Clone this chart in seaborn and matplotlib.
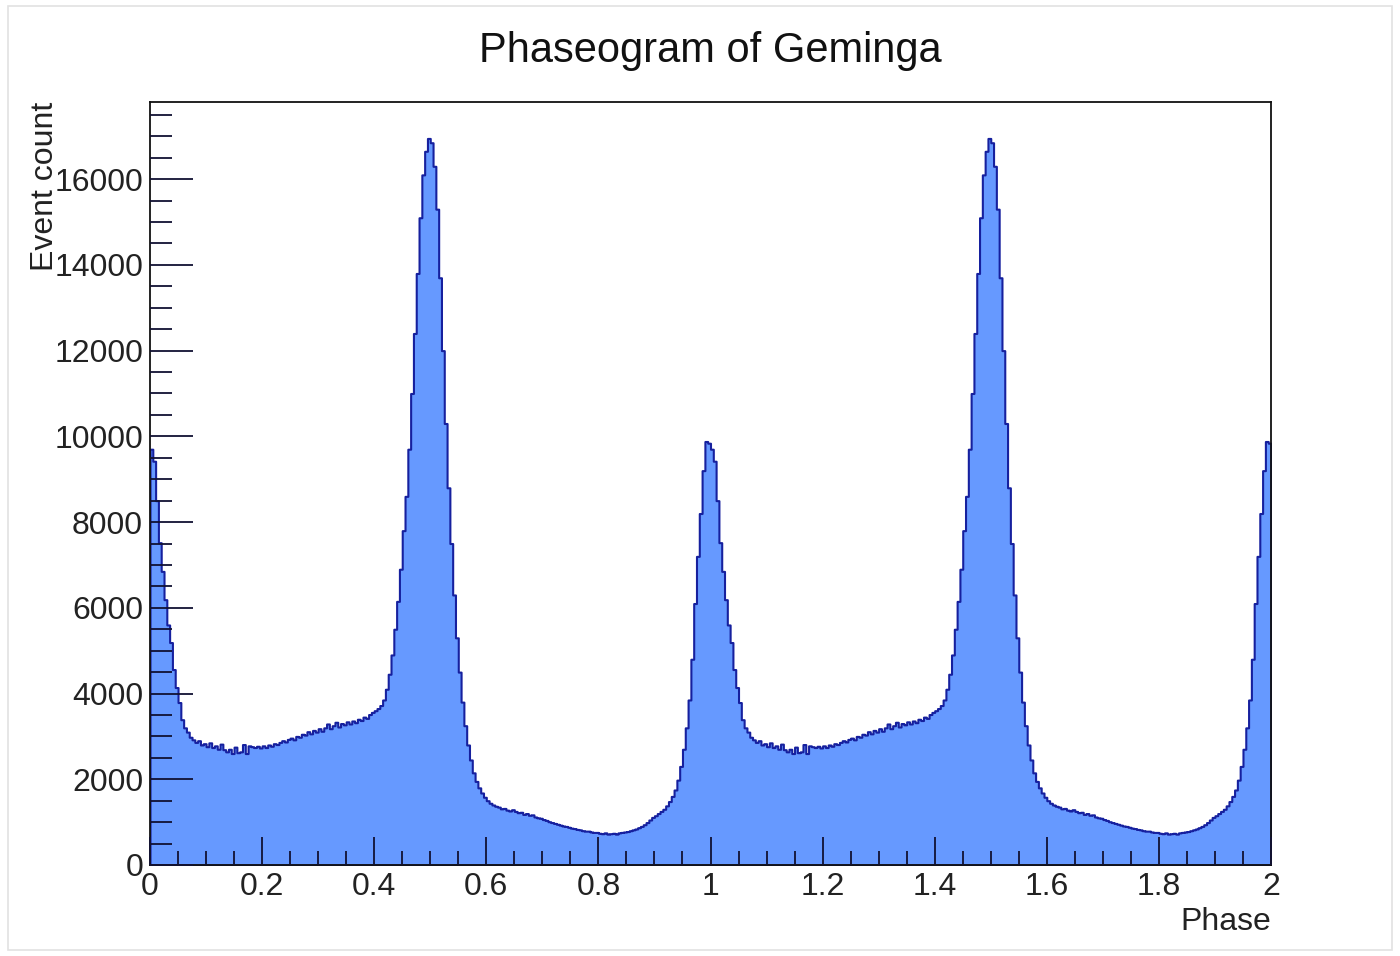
import numpy as np
import pandas as pd
import matplotlib
matplotlib.use("Agg")
import matplotlib.pyplot as plt
import seaborn as sns
from matplotlib.ticker import MultipleLocator, FixedLocator, FuncFormatter
from matplotlib.patches import Rectangle

# ---- data ----
# counts for one rotation cycle, 200 bins of width 0.005 in phase (0 -> 1)
counts_0_to_01 = [9700, 9420, 8500, 7520, 6850, 6190, 5600, 5190, 4560, 4140,
                  3790, 3390, 3200, 3100, 2980, 2920, 2860, 2900, 2800, 2830]
counts_01_to_02 = [2760, 2850, 2740, 2780, 2700, 2820, 2690, 2640, 2700, 2600,
                   2750, 2620, 2640, 2810, 2600, 2780, 2760, 2740, 2770, 2730]
counts_02_to_03 = [2780, 2740, 2800, 2770, 2830, 2810, 2860, 2900, 2870, 2930,
                   2960, 2920, 3000, 2980, 3050, 3030, 3110, 3060, 3140, 3100]
counts_03_to_04 = [3180, 3120, 3200, 3290, 3180, 3250, 3330, 3220, 3300, 3270,
                   3340, 3290, 3360, 3320, 3400, 3370, 3450, 3420, 3510, 3560]
counts_04_to_05 = [3600, 3650, 3720, 3850, 4100, 4450, 4900, 5500, 6150, 6900,
                   7800, 8600, 9700, 11000, 12400, 13800, 15100, 16100, 16650, 16950]
counts_05_to_06 = [16850, 16300, 15300, 13700, 12000, 10300, 8800, 7500, 6300, 5300,
                   4500, 3800, 3250, 2800, 2450, 2150, 1950, 1800, 1680, 1580]
counts_06_to_07 = [1500, 1440, 1400, 1370, 1350, 1310, 1320, 1280, 1260, 1290,
                   1250, 1220, 1230, 1180, 1200, 1160, 1170, 1120, 1100, 1090]
counts_07_to_08 = [1060, 1040, 1010, 990, 970, 950, 930, 910, 900, 880,
                   860, 850, 830, 820, 800, 790, 790, 770, 760, 760]
counts_08_to_09 = [740, 730, 750, 720, 730, 740, 720, 750, 760, 770,
                   780, 800, 820, 840, 870, 900, 940, 990, 1050, 1110]
counts_09_to_10 = [1150, 1200, 1250, 1300, 1380, 1480, 1600, 1750, 1980, 2300,
                   2700, 3200, 3850, 4800, 6100, 7200, 8200, 9200, 9880, 9840]

n_cycles = 2  # the phaseogram shows the cycle twice (phase 0 -> 2)

one_cycle = (counts_0_to_01 + counts_01_to_02 + counts_02_to_03 + counts_03_to_04
             + counts_04_to_05 + counts_05_to_06 + counts_06_to_07 + counts_07_to_08
             + counts_08_to_09 + counts_09_to_10)
counts = one_cycle * n_cycles
nbins = len(counts)
edges = [n_cycles * i / nbins for i in range(nbins + 1)]
centers = [0.5 * (edges[i] + edges[i + 1]) for i in range(nbins)]
df = pd.DataFrame({"phase": centers, "count": counts})

x_ticks = [0, 0.2, 0.4, 0.6, 0.8, 1, 1.2, 1.4, 1.6, 1.8, 2]
y_ticks = [0, 2000, 4000, 6000, 8000, 10000, 12000, 14000, 16000]

# ---- styling ----
sns.set_theme(style="white")
plt.rcParams["font.family"] = ["Liberation Sans", "DejaVu Sans"]

fig = plt.figure(figsize=(14, 9.56), dpi=100)
ax = fig.add_axes([150 / 1400, 1 - 865 / 956, 1121 / 1400, 763 / 956])
ax.set_axisbelow(False)

sns.histplot(data=df, x="phase", weights="count", bins=edges, element="step",
             fill=True, color="#6699ff", alpha=1.0, edgecolor="#16209e",
             linewidth=1.5, ax=ax)

ax.set_xlim(0, 2)
ax.set_ylim(0, 17800)

ax.xaxis.set_major_locator(FixedLocator(x_ticks))
ax.xaxis.set_minor_locator(MultipleLocator(0.05))
ax.yaxis.set_major_locator(FixedLocator(y_ticks))
ax.yaxis.set_minor_locator(MultipleLocator(500))
ax.xaxis.set_major_formatter(FuncFormatter(lambda v, p: f"{v:g}"))
ax.yaxis.set_major_formatter(FuncFormatter(lambda v, p: f"{int(v)}"))

ax.tick_params(axis="x", which="major", direction="in", length=20, width=1.3,
               color="#111133", labelsize=23, pad=5, labelcolor="#222222",
               bottom=True, top=False)
ax.tick_params(axis="x", which="minor", direction="in", length=10, width=1.3,
               color="#111133", bottom=True, top=False)
ax.tick_params(axis="y", which="major", direction="in", length=31, width=1.3,
               color="#111133", labelsize=23, pad=5, labelcolor="#222222",
               left=True, right=False)
ax.tick_params(axis="y", which="minor", direction="in", length=16, width=1.3,
               color="#111133", left=True, right=False)

for s in ax.spines.values():
    s.set_visible(True)
    s.set_color("#111111")
    s.set_linewidth(1.3)

ax.set_xlabel("Phase", fontsize=23, color="#222222", loc="right")
ax.xaxis.set_label_coords(1.0, -0.055)
ax.set_ylabel("Event count", fontsize=23, color="#222222", loc="top")
ax.yaxis.set_label_coords(-0.08, 1.0)

fig.text(710 / 1400, 1 - 51 / 956, "Phaseogram of Geminga", fontsize=30,
         ha="center", va="center", color="#111111")

fig.patches.append(Rectangle((0.006, 0.006), 0.988, 0.988, transform=fig.transFigure,
                             fill=False, edgecolor="#e2e2e2", linewidth=1.2))

fig.savefig("out.png", dpi=100, facecolor="white")
